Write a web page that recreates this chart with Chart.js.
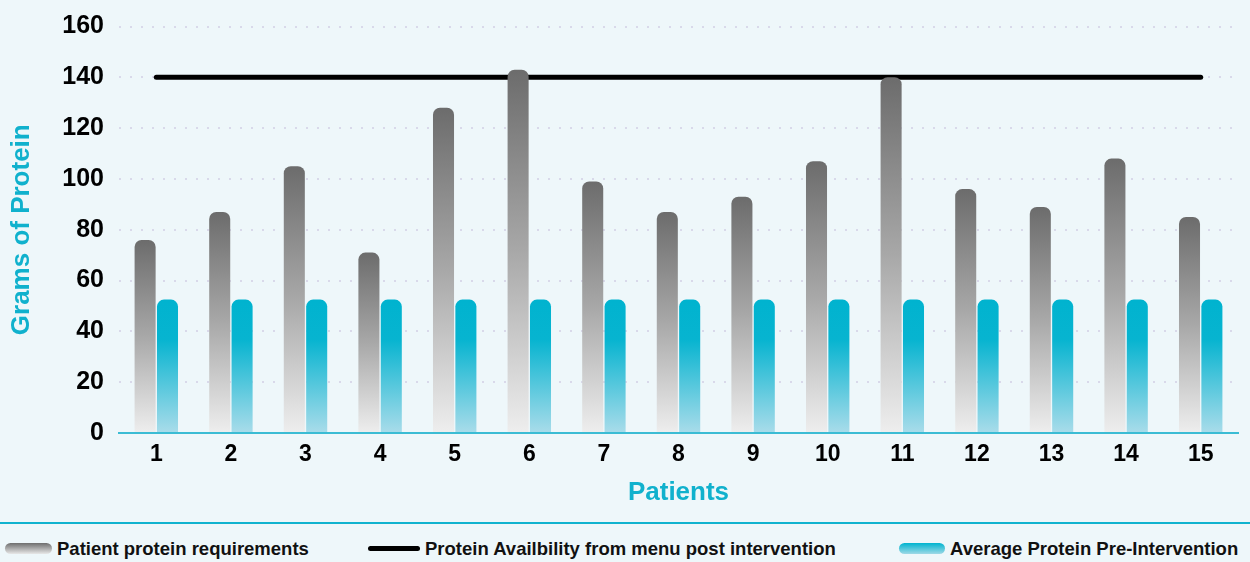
<!DOCTYPE html>
<html>
<head>
<meta charset="utf-8">
<script src="https://cdn.jsdelivr.net/npm/chart.js@4/dist/chart.umd.min.js"></script>
<style>
  html, body { margin: 0; padding: 0; background: #eef7fa; }
  body { width: 1250px; height: 562px; position: relative; overflow: hidden; font-family: "Liberation Sans", Arial, sans-serif; }
  #wrap { position: absolute; left: 0; top: 0; width: 1250px; height: 520px; }
  #sep { position: absolute; left: 0; top: 522px; width: 1250px; height: 2px; background: #11b3cf; }
  .leg { position: absolute; top: 538px; height: 21px; display: flex; align-items: center; font-weight: bold; font-size: 18.5px; color: #111; white-space: nowrap; }
  .sw { display: inline-block; margin-right: 5px; }
</style>
</head>
<body>
<div id="wrap"><canvas id="chart"></canvas></div>
<div id="sep"></div>
<div class="leg" style="left:5px"><span class="sw" style="width:47px;height:11px;border-radius:6px;background:linear-gradient(#6e6e6e,#e8e8e8)"></span>Patient protein requirements</div>
<div class="leg" style="left:368px"><span class="sw" style="width:52px;height:5px;border-radius:3px;background:#000"></span>Protein Availbility from menu post intervention</div>
<div class="leg" style="left:899px"><span class="sw" style="width:46px;height:11px;border-radius:6px;background:linear-gradient(#00b4d0,#9fd9e6)"></span>Average Protein Pre-Intervention</div>
<script>
// chart data
const patients = ['1','2','3','4','5','6','7','8','9','10','11','12','13','14','15'];
const requirements = [76, 87, 105, 71, 128, 143, 99, 87, 93, 107, 140, 96, 89, 108, 85];
const preIntervention = [52.5, 52.5, 52.5, 52.5, 52.5, 52.5, 52.5, 52.5, 52.5, 52.5, 52.5, 52.5, 52.5, 52.5, 52.5];
const postMenu = [140, 140, 140, 140, 140, 140, 140, 140, 140, 140, 140, 140, 140, 140, 140];
const yTicks = [0, 20, 40, 60, 80, 100, 120, 140, 160];

// gradient per bar, from its top down to the baseline
function barGradient(ctx, stops) {
    const chart = ctx.chart;
    const y = chart.scales.y;
    if (!chart.chartArea || !y || ctx.parsed === undefined) return stops[0][1];
    const top = y.getPixelForValue(ctx.parsed.y);
    const base = y.getPixelForValue(0);
    const g = chart.ctx.createLinearGradient(0, top, 0, base);
    stops.forEach(s => g.addColorStop(s[0], s[1]));
    return g;
}

const font = '"Liberation Sans", Arial, sans-serif';

new Chart(document.getElementById('chart'), {
    data: {
        labels: patients,
        datasets: [
            {
                type: 'bar',
                label: 'Patient protein requirements',
                data: requirements,
                backgroundColor: ctx => barGradient(ctx, [[0, '#6c6c6c'], [0.5, '#a8a8a8'], [1, '#eeeeee']]),
                borderRadius: { topLeft: 7, topRight: 7 },
                borderSkipped: 'start',
                categoryPercentage: 0.6,
                barPercentage: 0.94,
                order: 1
            },
            {
                type: 'bar',
                label: 'Average Protein Pre-Intervention',
                data: preIntervention,
                backgroundColor: ctx => barGradient(ctx, [[0, '#00b3cf'], [0.3, '#07b4d0'], [1, '#a9dcea']]),
                borderRadius: { topLeft: 7, topRight: 7 },
                borderSkipped: 'start',
                categoryPercentage: 0.6,
                barPercentage: 0.94,
                order: 1
            },
            {
                type: 'line',
                label: 'Protein Availbility from menu post intervention',
                data: postMenu,
                borderColor: '#000',
                borderWidth: 5,
                borderCapStyle: 'round',
                pointRadius: 0,
                fill: false,
                order: 2
            }
        ]
    },
    options: {
        responsive: true,
        maintainAspectRatio: false,
        animation: false,
        layout: { padding: { top: 12, right: 12, left: 0, bottom: 0 } },
        plugins: { legend: { display: false }, tooltip: { enabled: false } },
        scales: {
            x: {
                grid: { display: false, drawTicks: false },
                border: { color: '#3bbcd4', width: 2 },
                ticks: { color: '#000', font: { family: font, size: 23, weight: 'bold' }, padding: 8 },
                title: { display: true, text: 'Patients', color: '#10b1cd', font: { family: font, size: 26, weight: 'bold' }, padding: { top: 0, bottom: 12 } },
                afterFit: s => { s.height = 87; }
            },
            y: {
                min: 0,
                max: 160,
                afterBuildTicks: s => { s.ticks = yTicks.map(v => ({ value: v })); },
                grid: { color: '#d9d9ea', lineWidth: 2, drawTicks: false },
                border: { display: false, dash: [2, 9] },
                ticks: { color: '#000', font: { family: font, size: 25, weight: 'bold', lineHeight: 0.92 }, padding: 15 },
                title: { display: true, text: 'Grams of Protein', color: '#10b1cd', font: { family: font, size: 26, weight: 'bold' }, padding: { top: 6, bottom: 0 } },
                afterFit: s => { s.width = 119; }
            }
        }
    }
});
</script>
</body>
</html>
